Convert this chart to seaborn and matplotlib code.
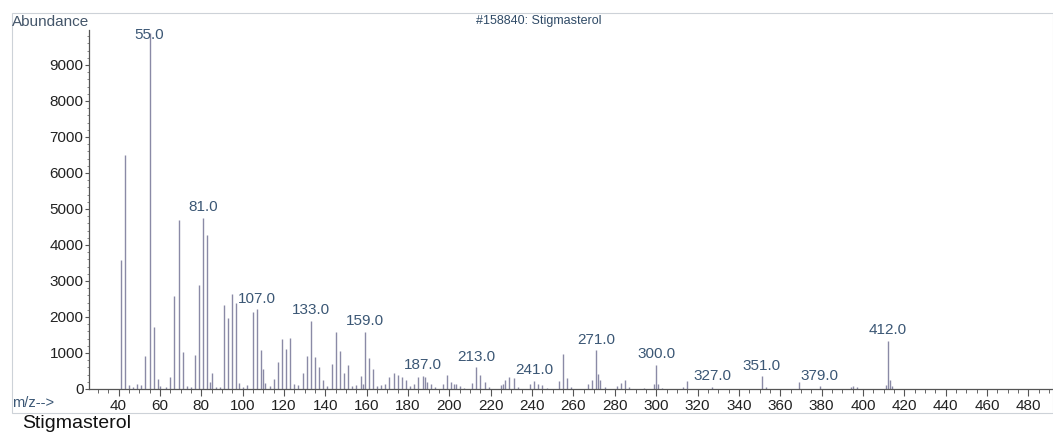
import matplotlib
matplotlib.use("Agg")
import matplotlib.pyplot as plt
from matplotlib.patches import Rectangle
from matplotlib.ticker import MultipleLocator
import pandas as pd
import seaborn as sns

# Electron-impact mass spectrum of stigmasterol (library entry #158840)
mz = [41, 43, 45, 47, 49, 51, 53, 55, 57, 59, 60, 63, 65, 67, 69, 71, 73, 75,
      77, 79, 81, 83, 84, 85, 87, 89, 91, 93, 95, 97, 98, 100, 102, 105, 107,
      109, 110, 111, 113, 115, 117, 119, 121, 123, 125, 127, 129, 131, 133,
      135, 137, 139, 141, 143, 145, 147, 149, 151, 153, 155, 157, 158, 159,
      161, 163, 165, 167, 169, 171, 173, 175, 177, 179, 181, 183, 185, 187,
      188, 189, 191, 193, 197, 199, 201, 202, 203, 205, 207, 211, 213, 215,
      217, 219, 225, 226, 227, 229, 231, 233, 239, 241, 243, 245, 247, 253,
      255, 257, 259, 267, 269, 271, 272, 273, 275, 281, 283, 285, 287, 294,
      299, 300, 301, 303, 313, 315, 327, 351, 353, 369, 379, 394, 395, 397,
      411, 412, 413, 414]
abundance = [3580, 6500, 110, 60, 130, 110, 910, 9900, 1730, 280, 80, 60, 320,
             2580, 4680, 1030, 90, 50, 940, 2880, 4760, 4290, 200, 440, 60, 50,
             2340, 1960, 2640, 2400, 170, 60, 110, 2150, 2220, 1080, 550, 160,
             80, 270, 760, 1400, 1110, 1430, 150, 100, 450, 910, 1890, 880, 600,
             250, 80, 690, 1570, 1050, 450, 660, 80, 100, 370, 150, 1590, 850,
             560, 90, 110, 140, 330, 440, 400, 330, 250, 80, 130, 330, 370, 330,
             200, 130, 60, 150, 400, 200, 150, 130, 80, 40, 180, 610, 390, 190,
             50, 110, 140, 250, 320, 300, 50, 140, 230, 150, 110, 40, 220, 980,
             310, 60, 150, 250, 1070, 430, 250, 60, 70, 170, 240, 50, 40, 140,
             670, 140, 40, 60, 220, 60, 360, 60, 190, 70, 60, 80, 50, 120, 1340,
             250, 80]
labeled_mz = [55, 81, 107, 133, 159, 187, 213, 241, 271, 300, 327, 351, 379, 412]
xtick_values = list(range(40, 481, 20))
ytick_values = list(range(0, 9001, 1000))

spec = pd.DataFrame({"mz": mz, "abundance": abundance})

sns.set_theme(style="white")
plt.rcParams["font.family"] = ["Liberation Sans", "DejaVu Sans"]

W, H = 1053, 432
fig = plt.figure(figsize=(W / 100, H / 100), dpi=100)
fig.patch.set_facecolor("white")

# Light border around the whole report panel
fig.patches.append(Rectangle((12 / W, 1 - 413 / H), (W - 12) / W, 400 / H,
                             transform=fig.transFigure, fill=False,
                             ec="#cdd2d8", lw=0.8))

ax = fig.add_axes([89 / W, 1 - 389 / H, (1052 - 89) / W, (389 - 30) / H])
ax.set_facecolor("white")

stick_color = "#8a8aa6"
ax.vlines(spec["mz"], 0, spec["abundance"], colors=stick_color, lw=1.0)

ax.set_xlim(25.7, 491.4)
ax.set_ylim(0, 9970)
ax.set_xticks(xtick_values)
ax.set_yticks(ytick_values)
ax.xaxis.set_minor_locator(MultipleLocator(5))
ax.yaxis.set_minor_locator(MultipleLocator(200))

tick_text = "#222222"
ax.tick_params(axis="x", which="major", direction="out", length=5, width=0.8,
               color="#555555", pad=2, labelsize=11, labelcolor=tick_text,
               bottom=True)
ax.tick_params(axis="x", which="minor", direction="out", length=3, width=0.7,
               color="#666666", bottom=True)
ax.tick_params(axis="y", which="major", direction="out", length=3, width=0.8,
               color="#555555", pad=1, labelsize=11, labelcolor=tick_text,
               left=True)
ax.tick_params(axis="y", which="minor", direction="out", length=1.5,
               width=0.6, color="#777777", left=True)

sns.despine(ax=ax, top=True, right=True)
for side in ("left", "bottom"):
    ax.spines[side].set_color("#555555")
    ax.spines[side].set_linewidth(0.9)

label_color = "#3b5775"
lookup = dict(zip(mz, abundance))
for m in labeled_mz:
    y = min(lookup[m], 9550)
    ax.annotate(f"{m:.1f}", xy=(m, y), xytext=(0, 2.5),
                textcoords="offset points", ha="center", va="bottom",
                fontsize=11, color=label_color, annotation_clip=False)

fig.text(12 / W, 1 - 22 / H, "Abundance", ha="left", va="center",
         fontsize=11, color="#44566a")
fig.text(539 / W, 1 - 21 / H, "#158840: Stigmasterol", ha="center",
         va="center", fontsize=9, color="#2f4a66")
fig.text(12 / W, 1 - 403 / H, "m/z-->", ha="left", va="center",
         fontsize=10.5, color=label_color)
fig.text(22 / W, 1 - 424 / H, "Stigmasterol", ha="left", va="center",
         fontsize=14, color="#111111")

fig.savefig("out.png", dpi=100)
